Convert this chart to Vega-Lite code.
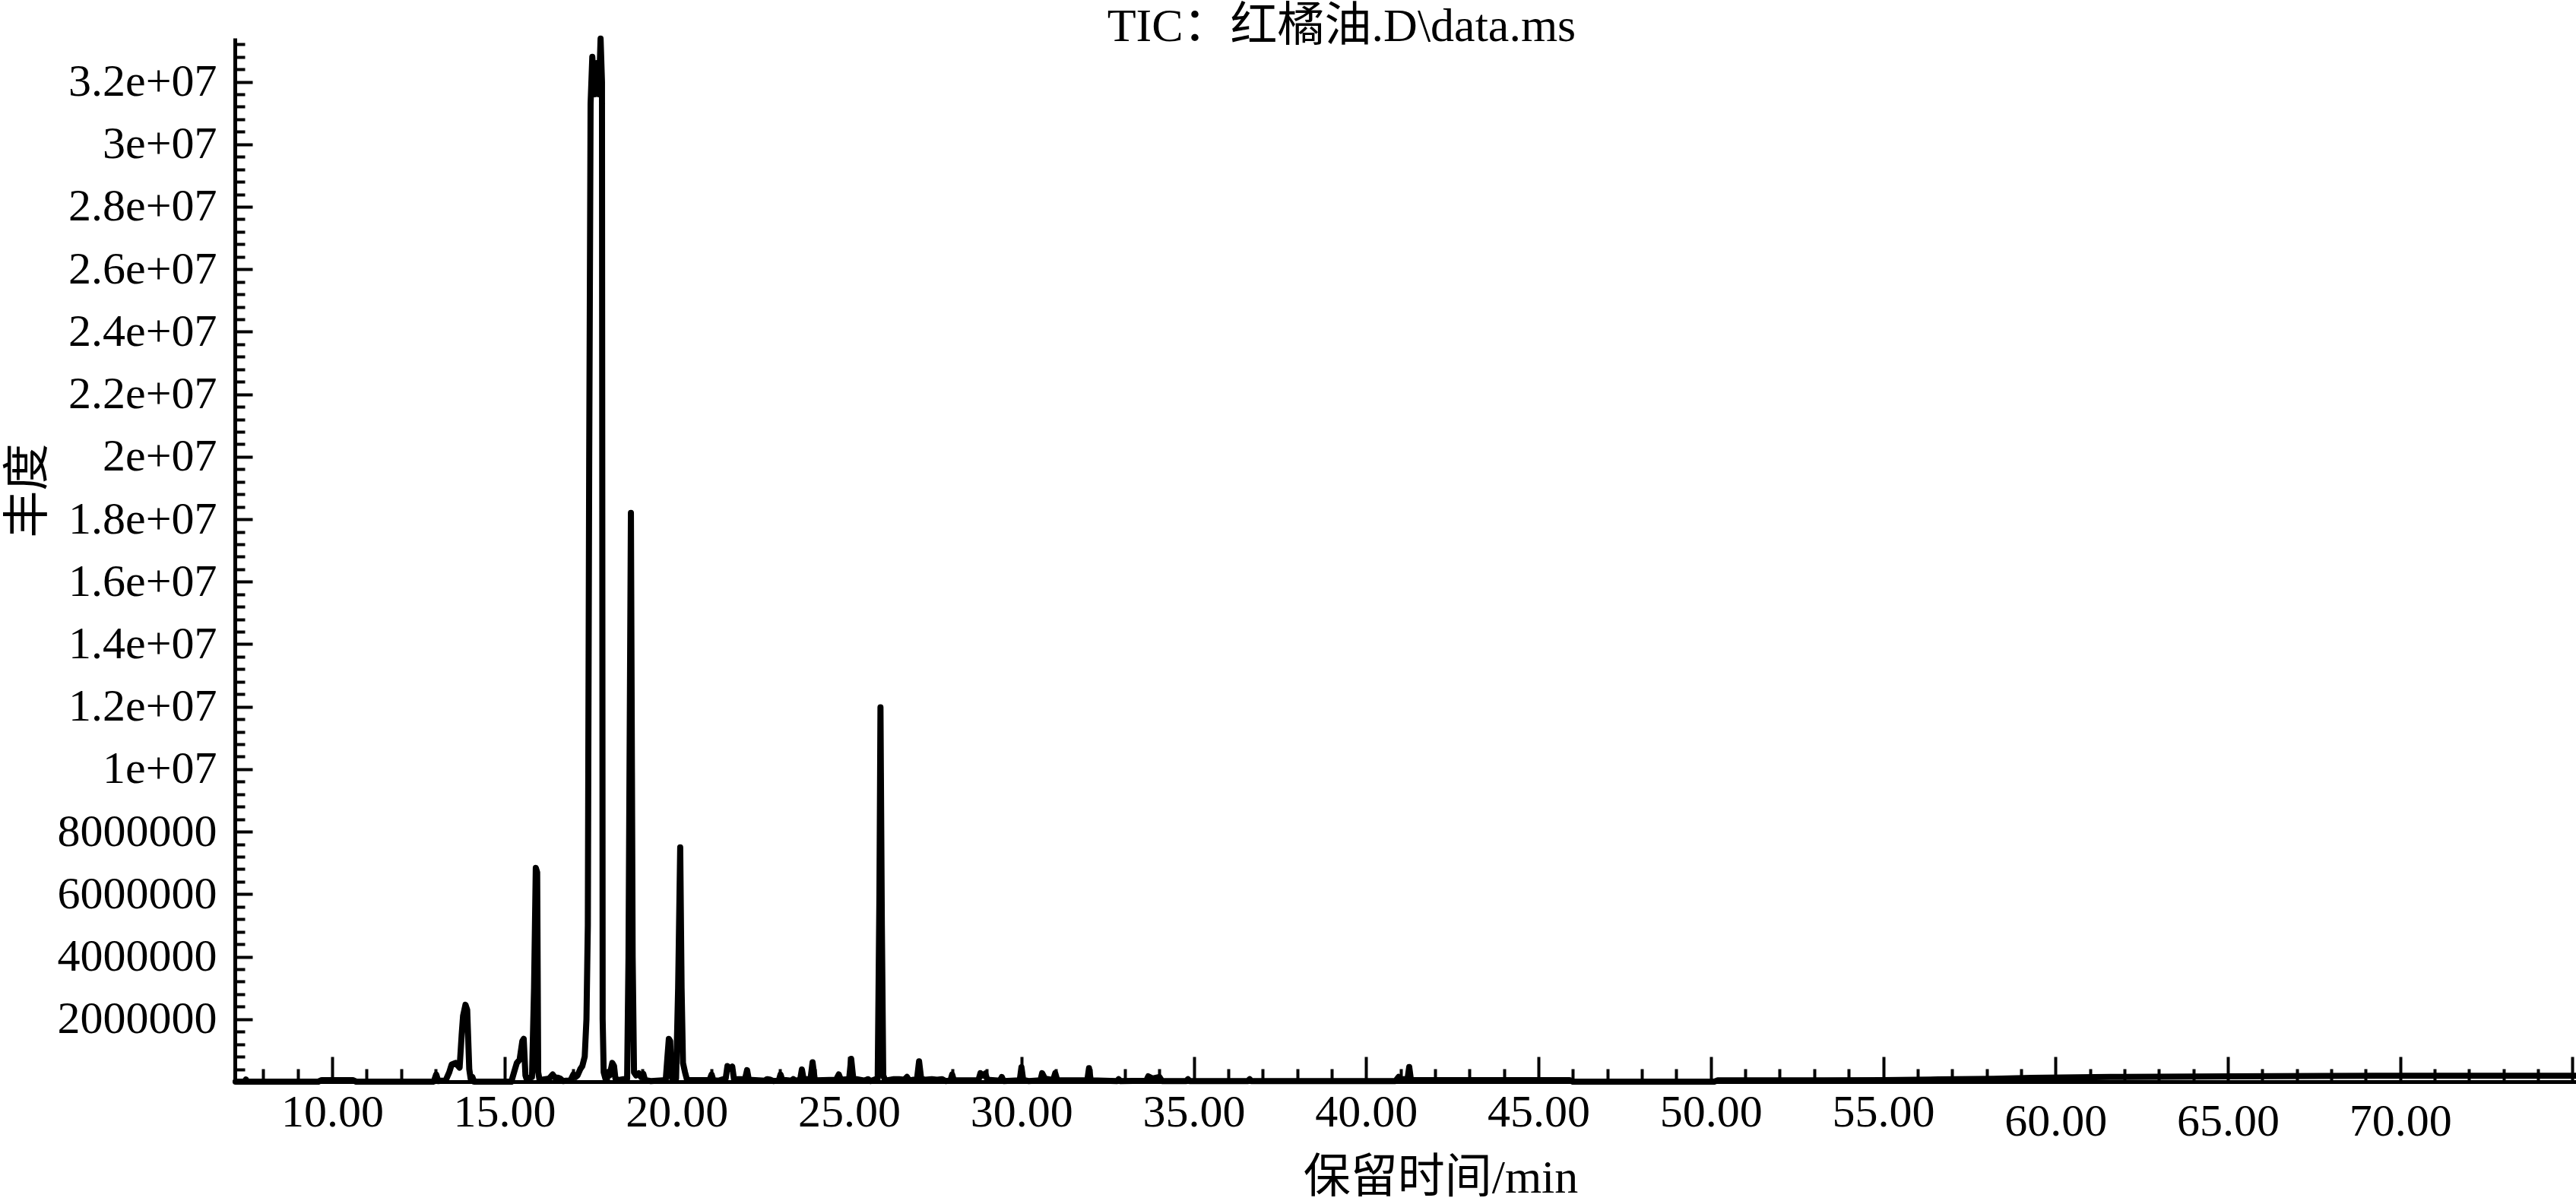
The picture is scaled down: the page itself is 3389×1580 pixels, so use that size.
{
  "$schema": "https://vega.github.io/schema/vega-lite/v6.json",
  "width": 3080,
  "height": 1373,
  "autosize": {"type": "none"},
  "padding": {"left": 309, "top": 50, "right": 0, "bottom": 157},
  "background": "white",
  "config": {"view": {"stroke": null}, "font": "Liberation Serif"},
  "title": {
    "text": "TIC：红橘油.D\\data.ms",
    "font": "'Liberation Serif', 'Noto Sans CJK SC'",
    "fontSize": 62,
    "fontWeight": "normal",
    "color": "black",
    "anchor": "middle",
    "frame": "group",
    "dx": -84,
    "dy": 69,
    "offset": 0,
    "baseline": "alphabetic"
  },
  "data": {
    "values": [
      {"t": 7.2, "v": 0}, {"t": 7.46, "v": 0}, {"t": 7.5, "v": 70000}, {"t": 7.54, "v": 0},
      {"t": 9.6, "v": 0}, {"t": 9.7, "v": 50000}, {"t": 10.6, "v": 50000}, {"t": 10.7, "v": 0},
      {"t": 12.95, "v": 0}, {"t": 13.02, "v": 230000}, {"t": 13.08, "v": 20000}, {"t": 13.3, "v": 50000},
      {"t": 13.4, "v": 300000}, {"t": 13.47, "v": 550000}, {"t": 13.58, "v": 600000}, {"t": 13.7, "v": 450000},
      {"t": 13.76, "v": 1500000}, {"t": 13.8, "v": 2100000}, {"t": 13.87, "v": 2460000}, {"t": 13.92, "v": 2300000},
      {"t": 13.98, "v": 400000}, {"t": 14.02, "v": 100000}, {"t": 14.07, "v": 150000}, {"t": 14.12, "v": 0},
      {"t": 15.2, "v": 0}, {"t": 15.28, "v": 300000}, {"t": 15.36, "v": 600000}, {"t": 15.44, "v": 700000},
      {"t": 15.52, "v": 1300000}, {"t": 15.56, "v": 1370000}, {"t": 15.61, "v": 200000}, {"t": 15.64, "v": 100000},
      {"t": 15.8, "v": 150000}, {"t": 15.86, "v": 3000000}, {"t": 15.91, "v": 6840000}, {"t": 15.95, "v": 6700000},
      {"t": 15.98, "v": 300000}, {"t": 16.02, "v": 50000}, {"t": 16.3, "v": 100000}, {"t": 16.4, "v": 230000},
      {"t": 16.47, "v": 120000}, {"t": 16.55, "v": 130000}, {"t": 16.62, "v": 100000}, {"t": 16.7, "v": 20000},
      {"t": 16.92, "v": 50000}, {"t": 17.0, "v": 230000}, {"t": 17.07, "v": 150000}, {"t": 17.12, "v": 200000},
      {"t": 17.2, "v": 400000}, {"t": 17.26, "v": 500000}, {"t": 17.33, "v": 800000}, {"t": 17.38, "v": 2000000},
      {"t": 17.42, "v": 5000000}, {"t": 17.46, "v": 20000000}, {"t": 17.5, "v": 31300000}, {"t": 17.55, "v": 32800000},
      {"t": 17.62, "v": 31600000}, {"t": 17.68, "v": 32600000}, {"t": 17.74, "v": 31600000}, {"t": 17.79, "v": 33380000},
      {"t": 17.83, "v": 32000000}, {"t": 17.85, "v": 2000000}, {"t": 17.88, "v": 300000}, {"t": 17.93, "v": 100000},
      {"t": 18.0, "v": 300000}, {"t": 18.05, "v": 200000}, {"t": 18.13, "v": 600000}, {"t": 18.18, "v": 500000},
      {"t": 18.22, "v": 100000}, {"t": 18.3, "v": 50000}, {"t": 18.56, "v": 100000}, {"t": 18.6, "v": 4000000},
      {"t": 18.67, "v": 18200000}, {"t": 18.72, "v": 4000000}, {"t": 18.76, "v": 300000}, {"t": 18.82, "v": 200000},
      {"t": 18.9, "v": 270000}, {"t": 18.96, "v": 150000}, {"t": 19.03, "v": 250000}, {"t": 19.08, "v": 50000},
      {"t": 19.25, "v": 20000}, {"t": 19.68, "v": 50000}, {"t": 19.73, "v": 800000}, {"t": 19.77, "v": 1370000},
      {"t": 19.81, "v": 1300000}, {"t": 19.84, "v": 200000}, {"t": 19.88, "v": 50000}, {"t": 19.98, "v": 100000},
      {"t": 20.04, "v": 3000000}, {"t": 20.1, "v": 7500000}, {"t": 20.14, "v": 3000000}, {"t": 20.18, "v": 600000},
      {"t": 20.24, "v": 300000}, {"t": 20.3, "v": 50000}, {"t": 20.95, "v": 50000}, {"t": 21.01, "v": 230000},
      {"t": 21.06, "v": 50000}, {"t": 21.2, "v": 30000}, {"t": 21.42, "v": 100000}, {"t": 21.47, "v": 500000},
      {"t": 21.54, "v": 420000}, {"t": 21.61, "v": 480000}, {"t": 21.66, "v": 80000}, {"t": 21.98, "v": 80000},
      {"t": 22.04, "v": 370000}, {"t": 22.09, "v": 60000}, {"t": 22.55, "v": 30000}, {"t": 22.62, "v": 80000},
      {"t": 22.72, "v": 60000}, {"t": 22.8, "v": 20000}, {"t": 22.96, "v": 40000}, {"t": 23.01, "v": 230000},
      {"t": 23.06, "v": 60000}, {"t": 23.33, "v": 30000}, {"t": 23.38, "v": 80000}, {"t": 23.45, "v": 30000},
      {"t": 23.58, "v": 60000}, {"t": 23.63, "v": 390000}, {"t": 23.68, "v": 80000}, {"t": 23.88, "v": 80000},
      {"t": 23.94, "v": 620000}, {"t": 24.0, "v": 100000}, {"t": 24.05, "v": 40000}, {"t": 24.62, "v": 60000},
      {"t": 24.7, "v": 230000}, {"t": 24.76, "v": 60000}, {"t": 25.0, "v": 80000}, {"t": 25.06, "v": 730000},
      {"t": 25.12, "v": 100000}, {"t": 25.45, "v": 30000}, {"t": 25.55, "v": 80000}, {"t": 25.62, "v": 20000},
      {"t": 25.83, "v": 100000}, {"t": 25.88, "v": 6000000}, {"t": 25.91, "v": 11980000}, {"t": 25.95, "v": 5000000},
      {"t": 25.99, "v": 200000}, {"t": 26.05, "v": 30000}, {"t": 26.3, "v": 80000}, {"t": 26.45, "v": 80000},
      {"t": 26.6, "v": 60000}, {"t": 26.68, "v": 150000}, {"t": 26.74, "v": 40000}, {"t": 26.97, "v": 80000},
      {"t": 27.03, "v": 650000}, {"t": 27.09, "v": 100000}, {"t": 27.2, "v": 60000}, {"t": 27.4, "v": 80000},
      {"t": 27.55, "v": 60000}, {"t": 27.7, "v": 80000}, {"t": 27.8, "v": 20000}, {"t": 27.94, "v": 40000},
      {"t": 27.99, "v": 230000}, {"t": 28.04, "v": 40000}, {"t": 28.75, "v": 40000}, {"t": 28.81, "v": 270000},
      {"t": 28.88, "v": 200000}, {"t": 28.95, "v": 260000}, {"t": 29.01, "v": 60000}, {"t": 29.38, "v": 30000},
      {"t": 29.43, "v": 150000}, {"t": 29.48, "v": 20000}, {"t": 29.95, "v": 40000}, {"t": 30.0, "v": 460000},
      {"t": 30.05, "v": 60000}, {"t": 30.2, "v": 20000}, {"t": 30.55, "v": 40000}, {"t": 30.6, "v": 270000},
      {"t": 30.68, "v": 100000}, {"t": 30.92, "v": 50000}, {"t": 30.98, "v": 270000}, {"t": 31.04, "v": 40000},
      {"t": 31.91, "v": 40000}, {"t": 31.96, "v": 430000}, {"t": 32.01, "v": 40000}, {"t": 32.78, "v": 20000},
      {"t": 32.82, "v": 80000}, {"t": 32.86, "v": 20000}, {"t": 33.62, "v": 30000}, {"t": 33.68, "v": 170000},
      {"t": 33.8, "v": 100000}, {"t": 34.0, "v": 150000}, {"t": 34.08, "v": 20000}, {"t": 34.78, "v": 20000},
      {"t": 34.83, "v": 80000}, {"t": 34.88, "v": 20000}, {"t": 36.57, "v": 20000}, {"t": 36.62, "v": 80000},
      {"t": 36.67, "v": 20000}, {"t": 40.85, "v": 20000}, {"t": 40.94, "v": 150000}, {"t": 41.0, "v": 80000},
      {"t": 41.2, "v": 80000}, {"t": 41.25, "v": 470000}, {"t": 41.3, "v": 50000}, {"t": 41.45, "v": 50000},
      {"t": 45.9, "v": 50000}, {"t": 46.0, "v": 0}, {"t": 50.1, "v": 0}, {"t": 50.2, "v": 40000},
      {"t": 53.3, "v": 40000}, {"t": 55.0, "v": 50000}, {"t": 56.6, "v": 70000}, {"t": 58.2, "v": 90000},
      {"t": 59.3, "v": 120000}, {"t": 61.6, "v": 150000}, {"t": 65.1, "v": 170000}, {"t": 69.3, "v": 190000},
      {"t": 75.1, "v": 190000}
    ]
  },
  "layer": [
    {
      "mark": {"type": "line", "color": "black", "strokeWidth": 8, "strokeJoin": "round", "strokeCap": "round"},
      "encoding": {
        "x": {
          "field": "t", "type": "quantitative",
          "scale": {"domain": [7.18, 75.1], "nice": false, "zero": false},
          "axis": {
            "orient": "bottom",
            "values": [10, 15, 20, 25, 30, 35, 40, 45, 50, 55, 60, 65, 70, 75],
            "labelExpr": "datum.value >= 75 ? '' : format(datum.value, '.2f')",
            "tickSize": -33, "tickWidth": 4, "tickColor": "black",
            "domainColor": "black", "domainWidth": 5,
            "labelFont": "Liberation Serif", "labelFontSize": 60, "labelColor": "black",
            "labelPadding": {"condition": {"test": "datum.value >= 60", "value": 56}, "value": 44},
            "labelBaseline": "top", "labelFlush": false, "labelOverlap": false, "labelLimit": 0,
            "grid": false,
            "title": "保留时间/min",
            "titleFont": "'Liberation Serif', 'Noto Sans CJK SC'",
            "titleFontSize": 62, "titleFontWeight": "normal", "titleColor": "black",
            "titleX": 1586, "titleY": 145, "titleBaseline": "alphabetic", "titleAlign": "center"
          }
        },
        "y": {
          "field": "v", "type": "quantitative",
          "scale": {"domain": [0, 33400000], "nice": false, "zero": true},
          "axis": {
            "orient": "left",
            "values": [2000000, 4000000, 6000000, 8000000, 10000000, 12000000, 14000000, 16000000, 18000000, 20000000, 22000000, 24000000, 26000000, 28000000, 30000000, 32000000],
            "labelExpr": "datum.value >= 10000000 ? format(datum.value / 10000000, '~g') + 'e+07' : format(datum.value, 'd')",
            "tickSize": -23, "tickWidth": 4, "tickColor": "black",
            "domainColor": "black", "domainWidth": 5,
            "labelFont": "Liberation Serif", "labelFontSize": 60, "labelColor": "black",
            "labelPadding": 47, "labelBaseline": "middle", "labelAlign": "right",
            "labelFlush": false, "labelOverlap": false, "labelLimit": 0,
            "grid": false,
            "title": "丰度",
            "titleFont": "'Liberation Serif', 'Noto Sans CJK SC'",
            "titleFontSize": 62, "titleFontWeight": "normal", "titleColor": "black",
            "titleAngle": -90, "titleX": -272, "titleY": 595, "titleBaseline": "middle", "titleAlign": "center"
          }
        }
      }
    },
    {
      "mark": {"type": "line", "opacity": 0},
      "encoding": {
        "x": {
          "field": "t", "type": "quantitative",
          "axis": {
            "orient": "bottom",
            "values": [8, 9, 11, 12, 13, 14, 16, 17, 18, 19, 21, 22, 23, 24, 26, 27, 28, 29, 31, 32, 33, 34, 36, 37, 38, 39, 41, 42, 43, 44, 46, 47, 48, 49, 51, 52, 53, 54, 56, 57, 58, 59, 61, 62, 63, 64, 66, 67, 68, 69, 71, 72, 73, 74],
            "tickSize": -17, "tickWidth": 4, "tickColor": "black",
            "labels": false, "domain": false, "grid": false, "title": null
          }
        },
        "y": {
          "field": "v", "type": "quantitative",
          "axis": {
            "orient": "left",
            "values": [400000, 800000, 1200000, 1600000, 2400000, 2800000, 3200000, 3600000, 4400000, 4800000, 5200000, 5600000, 6400000, 6800000, 7200000, 7600000, 8400000, 8800000, 9200000, 9600000, 10400000, 10800000, 11200000, 11600000, 12400000, 12800000, 13200000, 13600000, 14400000, 14800000, 15200000, 15600000, 16400000, 16800000, 17200000, 17600000, 18400000, 18800000, 19200000, 19600000, 20400000, 20800000, 21200000, 21600000, 22400000, 22800000, 23200000, 23600000, 24400000, 24800000, 25200000, 25600000, 26400000, 26800000, 27200000, 27600000, 28400000, 28800000, 29200000, 29600000, 30400000, 30800000, 31200000, 31600000, 32400000, 32800000, 33200000],
            "tickSize": -13, "tickWidth": 4, "tickColor": "black",
            "labels": false, "domain": false, "grid": false, "title": null
          }
        }
      }
    }
  ],
  "resolve": {"axis": {"x": "independent", "y": "independent"}}
}
